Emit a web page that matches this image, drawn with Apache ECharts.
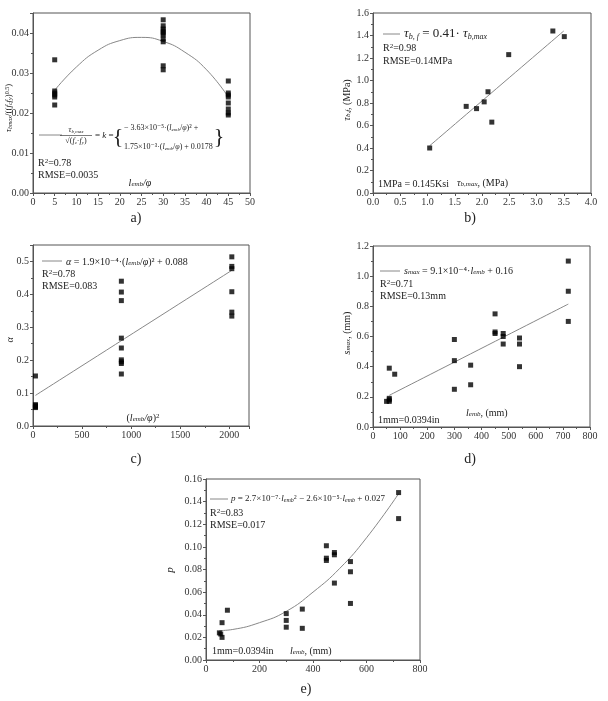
<!DOCTYPE html>
<html>
<head>
<meta charset="utf-8">
<script src="https://cdn.jsdelivr.net/npm/echarts@6/dist/echarts.min.js"></script>
<style>
html, body { margin: 0; padding: 0; background: #fff; }
#main { width: 608px; height: 701px; }
</style>
</head>
<body>
<div id="main"></div>
<script>
// a) tau_bmax / sqrt(fc fy) vs l_emb/phi
var aPoints = [
    [5, 0.0333], [5, 0.0255], [5, 0.0250], [5, 0.0245], [5, 0.0240], [5, 0.0220],
    [30, 0.0433], [30, 0.0418], [30, 0.0410], [30, 0.0405], [30, 0.0400], [30, 0.0395],
    [30, 0.0385], [30, 0.0378], [30, 0.0318], [30, 0.0308],
    [45, 0.0280], [45, 0.0250], [45, 0.0245], [45, 0.0240], [45, 0.0225], [45, 0.0210],
    [45, 0.0200], [45, 0.0195]
];
var aFit = [[5, 0.0257], [10, 0.0315], [15, 0.0357], [20, 0.0381], [25, 0.0389],
    [30, 0.0379], [35, 0.0352], [40, 0.0308], [45, 0.0240]];

// b) tau_bf vs tau_bmax
var bPoints = [[1.04, 0.40], [1.71, 0.77], [1.90, 0.75], [2.04, 0.81], [2.11, 0.90],
    [2.18, 0.63], [2.49, 1.23], [3.30, 1.44], [3.51, 1.39]];
var bFit = [[1.04, 0.42], [3.50, 1.44]];

// c) alpha vs (l_emb/phi)^2
var cPoints = [
    [25, 0.152], [25, 0.065], [25, 0.062], [25, 0.060], [25, 0.058], [25, 0.056],
    [900, 0.440], [900, 0.407], [900, 0.381], [900, 0.267], [900, 0.237], [900, 0.201],
    [900, 0.195], [900, 0.190], [900, 0.158],
    [2025, 0.514], [2025, 0.485], [2025, 0.478], [2025, 0.408], [2025, 0.346], [2025, 0.334]
];
var cFit = [[25, 0.093], [2025, 0.473]];

// d) s_max vs l_emb
var dPoints = [
    [50, 0.17], [60, 0.17], [60, 0.18], [60, 0.19], [60, 0.39], [80, 0.35],
    [300, 0.58], [300, 0.44], [300, 0.25], [360, 0.41], [360, 0.28],
    [450, 0.75], [450, 0.63], [450, 0.62], [480, 0.62], [480, 0.60], [480, 0.55],
    [540, 0.59], [540, 0.55], [540, 0.40], [720, 1.10], [720, 0.90], [720, 0.70]
];
var dFit = [[60, 0.21], [720, 0.815]];

// e) p vs l_emb
var ePoints = [
    [50, 0.024], [55, 0.023], [60, 0.033], [60, 0.020], [80, 0.044],
    [300, 0.041], [300, 0.035], [300, 0.029], [360, 0.045], [360, 0.028],
    [450, 0.101], [450, 0.090], [450, 0.088], [480, 0.095], [480, 0.093], [480, 0.068],
    [540, 0.087], [540, 0.078], [540, 0.050], [720, 0.148], [720, 0.125]
];
var eFit = [[50, 0.026], [100, 0.027], [200, 0.033], [300, 0.043], [400, 0.060],
    [500, 0.081], [600, 0.108], [720, 0.147]];

var serif = '"Liberation Serif", "DejaVu Serif", serif';
var axisColor = '#555';

var grids = [
    { left: 33, top: 13, width: 217, height: 180 },
    { left: 373, top: 13, width: 218, height: 180 },
    { left: 33, top: 245, width: 216, height: 181 },
    { left: 373, top: 246, width: 217, height: 181 },
    { left: 206, top: 479, width: 214, height: 181 }
];

function makeAxis(idx, min, max, step, dec) {
    return {
        type: 'value', gridIndex: idx, min: min, max: max, interval: step,
        axisLine: { onZero: false, lineStyle: { color: axisColor, width: 1 } },
        axisTick: { length: 3, lineStyle: { color: axisColor } },
        minorTick: { show: true, splitNumber: 2, length: 2, lineStyle: { color: axisColor } },
        splitLine: { show: false },
        axisLabel: {
            fontFamily: serif, fontSize: 10, color: '#333', margin: 4,
            formatter: function (v) {
                var k = (v - min) / step;
                if (Math.abs(k - Math.round(k)) > 1e-6) return '';
                return v.toFixed(dec);
            }
        }
    };
}

var xAxes = [
    makeAxis(0, 0, 50, 5, 0),
    makeAxis(1, 0, 4, 0.5, 1),
    makeAxis(2, 0, 2200, 500, 0),
    makeAxis(3, 0, 800, 100, 0),
    makeAxis(4, 0, 800, 200, 0)
];
var yAxes = [
    makeAxis(0, 0, 0.045, 0.01, 2),
    makeAxis(1, 0, 1.6, 0.2, 1),
    makeAxis(2, 0, 0.55, 0.1, 1),
    makeAxis(3, 0, 1.2, 0.2, 1),
    makeAxis(4, 0, 0.16, 0.02, 2)
];

function scatter(idx, data) {
    return { type: 'scatter', xAxisIndex: idx, yAxisIndex: idx, data: data,
        symbol: 'rect', symbolSize: 5, itemStyle: { color: '#000' }, z: 3 };
}
function fit(idx, data) {
    return { type: 'line', xAxisIndex: idx, yAxisIndex: idx, data: data, smooth: true,
        showSymbol: false, lineStyle: { color: '#888', width: 1 }, z: 2 };
}

function rich(fs) {
    var s = Math.round(fs * 0.65);
    return {
        i: { fontSize: fs, fontFamily: serif, fontStyle: 'italic', verticalAlign: 'middle' },
        sub: { fontSize: s, fontFamily: serif, fontStyle: 'italic', verticalAlign: 'bottom' },
        sup: { fontSize: s, fontFamily: serif, verticalAlign: 'top' }
    };
}
function txt(x, y, text, fs, align, rot) {
    var el = {
        type: 'text', x: x, y: y, z: 10,
        style: { text: text, fontSize: fs, fontFamily: serif, fill: '#222',
            align: align || 'left', verticalAlign: 'middle', rich: rich(fs) }
    };
    if (rot) el.rotation = rot;
    return el;
}
function seg(x1, x2, y) {
    return { type: 'line', z: 10, shape: { x1: x1, y1: y, x2: x2, y2: y },
        style: { stroke: '#888', lineWidth: 1 } };
}

var R = Math.PI / 2;
var graphics = [
    // a)
    seg(39, 62, 135),
    txt(76, 130, '{i|τ}{sub|b,max}', 8, 'center'),
    { type: 'line', z: 10, shape: { x1: 60, y1: 135.5, x2: 92, y2: 135.5 }, style: { stroke: '#222', lineWidth: 0.6 } },
    txt(76, 141, '√({i|f}{sub|c}·{i|f}{sub|y})', 8, 'center'),
    txt(95, 136, '= {i|k} =', 9),
    txt(118, 137, '{', 22, 'center'),
    txt(124, 128, '− 3.63×10⁻⁵·({i|l}{sub|emb}/{i|φ})² +', 8),
    txt(124, 147, '1.75×10⁻³·({i|l}{sub|emb}/{i|φ}) + 0.0178', 8),
    txt(219, 137, '}', 22, 'center'),
    txt(38, 163, 'R{sup|2}=0.78', 10),
    txt(38, 175, 'RMSE=0.0035', 10),
    txt(140, 183, '{i|l}{sub|emb}{i|/φ}', 10, 'center'),
    txt(9, 108, '{i|τ}{sub|bmax}/(({i|f}{sub|c}{i|f}{sub|y}){sup|0.5})', 9, 'center', R),
    txt(136, 218, 'a)', 14, 'center'),
    // b)
    seg(383, 400, 34),
    txt(404, 34, '{i|τ}{sub|b, f} = 0.41· {i|τ}{sub|b,max}', 13),
    txt(383, 48, 'R{sup|2}=0.98', 10),
    txt(383, 61, 'RMSE=0.14MPa', 10),
    txt(378, 184, '1MPa = 0.145Ksi', 10),
    txt(457, 183, '{i|τ}{sub|b,max}, (MPa)', 10),
    txt(347, 100, '{i|τ}{sub|b,f}, (MPa)', 10, 'center', R),
    txt(470, 218, 'b)', 14, 'center'),
    // c)
    seg(42, 62, 261),
    txt(66, 262, '{i|α} = 1.9×10⁻⁴·({i|l}{sub|emb}/{i|φ})² + 0.088', 10),
    txt(42, 274, 'R{sup|2}=0.78', 10),
    txt(42, 286, 'RMSE=0.083', 10),
    txt(143, 418, '({i|l}{sub|emb}{i|/φ}){sup|2}', 10, 'center'),
    txt(10, 340, '{i|α}', 10, 'center', R),
    txt(136, 459, 'c)', 14, 'center'),
    // d)
    seg(380, 400, 271),
    txt(404, 271, '{i|s}{sub|max} = 9.1×10⁻⁴·{i|l}{sub|emb} + 0.16', 10),
    txt(380, 284, 'R{sup|2}=0.71', 10),
    txt(380, 296, 'RMSE=0.13mm', 10),
    txt(378, 420, '1mm=0.0394in', 10),
    txt(466, 413, '{i|l}{sub|emb}, (mm)', 10),
    txt(347, 333, '{i|s}{sub|max}, (mm)', 10, 'center', R),
    txt(470, 459, 'd)', 14, 'center'),
    // e)
    seg(210, 228, 499),
    txt(231, 499, '{i|p} = 2.7×10⁻⁷·{i|l}{sub|emb}{sup|2} − 2.6×10⁻⁵·{i|l}{sub|emb} + 0.027', 9),
    txt(210, 513, 'R{sup|2}=0.83', 10),
    txt(210, 525, 'RMSE=0.017', 10),
    txt(212, 651, '1mm=0.0394in', 10),
    txt(290, 651, '{i|l}{sub|emb}, (mm)', 10),
    txt(170, 570, '{i|p}', 11, 'center', R),
    txt(306, 689, 'e)', 14, 'center')
];

var chart = echarts.init(document.getElementById('main'));
var option = {
    animation: false,
    backgroundColor: '#fff',
    grid: grids.map(function (g) {
        return { left: g.left, top: g.top, width: g.width, height: g.height,
            show: true, borderColor: axisColor, borderWidth: 1, backgroundColor: 'transparent' };
    }),
    xAxis: xAxes,
    yAxis: yAxes,
    series: [
        scatter(0, aPoints), fit(0, aFit),
        scatter(1, bPoints), fit(1, bFit),
        scatter(2, cPoints), fit(2, cFit),
        scatter(3, dPoints), fit(3, dFit),
        scatter(4, ePoints), fit(4, eFit)
    ],
    graphic: graphics
};
chart.setOption(option);
</script>
</body>
</html>
